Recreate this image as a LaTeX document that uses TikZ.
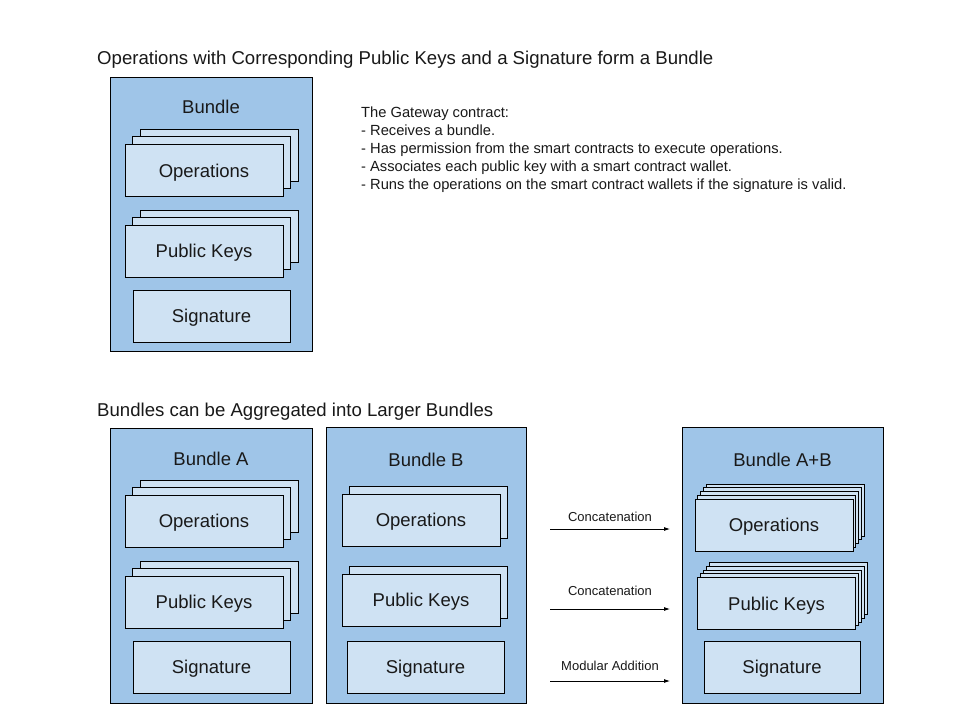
\documentclass[tikz,border=0pt]{standalone}
\usepackage{fontspec}
\setmainfont{Liberation Sans}
\usepackage{xcolor}
\usepackage{tikz}
\usetikzlibrary{arrows.meta, positioning}
\definecolor{bundlecolor}{HTML}{9FC5E8}
\definecolor{itemcolor}{HTML}{CFE2F3}
\definecolor{textgray}{RGB}{25, 25, 25}

\begin{document}
\begin{tikzpicture}[x=1pt, y=-1pt,
        bundlebox/.style={draw=black, fill=bundlecolor, line width=0.9pt, inner sep=0pt},
        itembox/.style={draw=black, fill=itemcolor, line width=0.9pt, minimum width=158pt, minimum height=52pt, inner sep=0pt, text depth=0pt, text=textgray, font=\fontsize{18.5}{22}\selectfont},
        titletext/.style={anchor=west, inner sep=0pt, text depth=0pt, text=textgray, font=\fontsize{18.6}{22}\selectfont},
        labeltext/.style={inner sep=0pt, text depth=0pt, text=textgray, font=\fontsize{18.5}{22}\selectfont},
        arrowtext/.style={inner sep=0pt, text depth=0pt, text=textgray, font=\fontsize{13}{15}\selectfont},
        flowarrow/.style={-{Latex[length=6pt, width=4pt]}, line width=0.8pt, black}]
        \useasboundingbox[fill=white] (0,0) rectangle (960,720);

        % Titles
        \node[titletext] (title1) at (97, 58) {Operations with Corresponding Public Keys and a Signature form a Bundle};
        \node[titletext] (title2) at (97, 410) {Bundles can be Aggregated into Larger Bundles};

        % Gateway notes
        \node[anchor=west, align=left, inner sep=0pt, text=textgray, font=\fontsize{14.7}{18}\selectfont] (gateway) at (361, 150) {The Gateway contract:\\- Receives a bundle.\\- Has permission from the smart contracts to execute operations.\\- Associates each public key with a smart contract wallet.\\- Runs the operations on the smart contract wallets if the signature is valid.};

        % Single bundle
        \node[bundlebox, minimum width=202pt, minimum height=274pt] (bundle) at (211, 214) {};
        \node[labeltext] (bundleLabel) at (211, 107) {Bundle};
        \node[itembox] (opsBack2) at (219, 155) {};
        \node[itembox] (opsBack1) at (211.5, 162.5) {};
        \node[itembox] (ops) at (204, 170.5) {Operations};
        \node[itembox] (keysBack2) at (219, 236) {};
        \node[itembox] (keysBack1) at (211.5, 243.5) {};
        \node[itembox] (keys) at (204, 251) {Public Keys};
        \node[itembox, minimum width=157pt] (sig) at (211.5, 316) {Signature};

        % Bundle A
        \node[bundlebox, minimum width=202pt, minimum height=275pt] (bundleA) at (211, 565.5) {};
        \node[labeltext] (bundleALabel) at (211, 459) {Bundle A};
        \node[itembox] (opsABack2) at (219, 506) {};
        \node[itembox] (opsABack1) at (211.5, 513.5) {};
        \node[itembox] (opsA) at (204, 521) {Operations};
        \node[itembox] (keysABack2) at (219, 587) {};
        \node[itembox] (keysABack1) at (211.5, 594.5) {};
        \node[itembox] (keysA) at (204, 602) {Public Keys};
        \node[itembox, minimum width=157pt] (sigA) at (211.5, 667) {Signature};

        % Bundle B
        \node[bundlebox, minimum width=200pt, minimum height=276pt] (bundleB) at (426, 565) {};
        \node[labeltext] (bundleBLabel) at (426, 460) {Bundle B};
        \node[itembox] (opsBBack1) at (428, 512) {};
        \node[itembox] (opsB) at (421, 520) {Operations};
        \node[itembox] (keysBBack1) at (428, 592) {};
        \node[itembox] (keysB) at (421, 600) {Public Keys};
        \node[itembox, minimum width=157pt] (sigB) at (425.5, 667) {Signature};

        % Bundle A+B
        \node[bundlebox, minimum width=201pt, minimum height=276pt] (bundleAB) at (782.5, 565) {};
        \node[labeltext] (bundleABLabel) at (782.5, 460) {Bundle A+B};
        \node[itembox] (opsABBack4) at (785.6, 510) {};
        \node[itembox] (opsABBack3) at (782.7, 513.75) {};
        \node[itembox] (opsABBack2) at (779.8, 517.5) {};
        \node[itembox] (opsABBack1) at (776.9, 521.25) {};
        \node[itembox] (opsAB) at (774, 525) {Operations};
        \node[itembox] (keysABBack4) at (788.1, 588.5) {};
        \node[itembox] (keysABBack3) at (785.2, 592.25) {};
        \node[itembox] (keysABBack2) at (782.3, 596) {};
        \node[itembox] (keysABBack1) at (779.4, 599.75) {};
        \node[itembox] (keysAB) at (776.5, 603.5) {Public Keys};
        \node[itembox, minimum width=156pt] (sigAB) at (782, 667) {Signature};

        % Aggregation arrows
        \coordinate (opsFrom) at (550, 529);
        \coordinate (opsTo) at (670, 529);
        \coordinate (keysFrom) at (550, 609);
        \coordinate (keysTo) at (670, 609);
        \coordinate (sigFrom) at (550, 681);
        \coordinate (sigTo) at (670, 681);
        \draw[flowarrow] (opsFrom) -- (opsTo);
        \draw[flowarrow] (keysFrom) -- (keysTo);
        \draw[flowarrow] (sigFrom) -- (sigTo);
        \node[arrowtext] (opsArrowLabel) at (610, 517) {Concatenation};
        \node[arrowtext] (keysArrowLabel) at (610, 591) {Concatenation};
        \node[arrowtext] (sigArrowLabel) at (610, 666) {Modular Addition};

    \end{tikzpicture}
\end{document}
